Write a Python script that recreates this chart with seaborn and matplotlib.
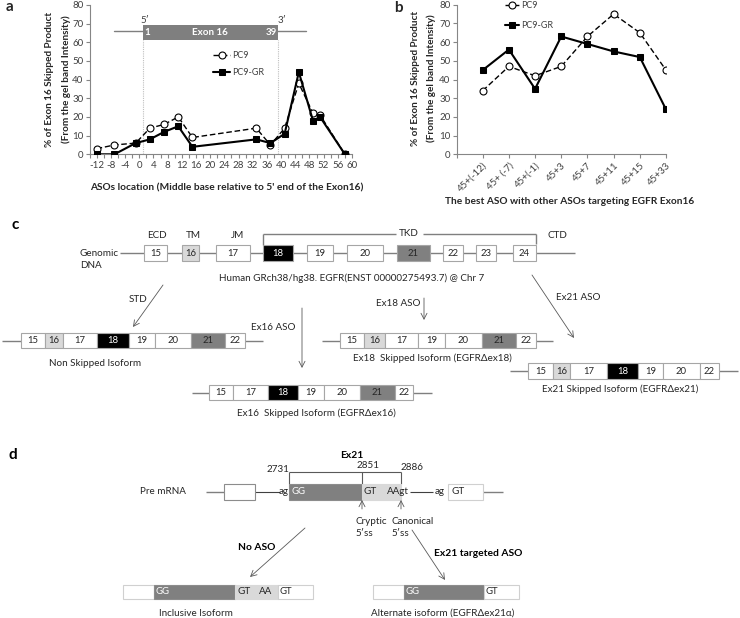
import numpy as np
import pandas as pd
import seaborn as sns
import matplotlib.pyplot as plt
from matplotlib.patches import Rectangle
from matplotlib.ticker import MultipleLocator

sns.set_theme(style='white')
plt.rcParams['font.family'] = ['Lato', 'DejaVu Sans']
plt.rcParams['axes.unicode_minus'] = False

# ---------------- data ----------------
aso_pos = [-12, -7, -1, 3, 7, 11, 15, 33, 37, 41, 45, 49, 51, 58]
pc9_a = [3, 5, 6, 14, 16, 20, 9, 14, 5, 14, 38, 22, 21, 0]
pc9gr_a = [0, 0, 6, 8, 12, 15, 4, 8, 6, 11, 44, 18, 20, 0]
a_xticks = list(range(-12, 61, 4))
y_ticks = list(range(0, 81, 10))

combos = ['45+(-12)', '45+ (-7)', '45+(-1)', '45+3', '45+7', '45+11', '45+15', '45+33']
pc9_b = [34, 47, 42, 47, 63, 75, 65, 45]
pc9gr_b = [45, 56, 35, 63, 59, 55, 52, 24]

W, H = 740, 618
fig = plt.figure(figsize=(W / 100, H / 100), dpi=100)

def px_axes(l, t, r, b):
    return fig.add_axes([l / W, 1 - b / H, (r - l) / W, (b - t) / H])

# ---------------- diagram canvas (panels c, d) ----------------
axd = fig.add_axes([0, 0, 1, 1])
axd.set_xlim(0, W)
axd.set_ylim(H, 0)
axd.axis('off')
axd.patch.set_alpha(0)

TXT = '#262626'
LINE = '#7f7f7f'
EDGE = '#a6a6a6'
FILL = {'w': 'white', 'l': '#d9d9d9', 'b': 'black', 'd': '#808080'}
FS = 7.1

def hline(x0, x1, y, color=LINE, lw=1.0):
    axd.plot([x0, x1], [y, y], color=color, lw=lw, solid_capstyle='butt', zorder=1)

def vline(x, y0, y1, color=LINE, lw=1.0):
    axd.plot([x, x], [y0, y1], color=color, lw=lw, solid_capstyle='butt', zorder=1)

def box(x0, x1, y0, y1, kind, label=None, align='center', tcolor=None, edge=EDGE):
    axd.add_patch(Rectangle((x0, y0), x1 - x0, y1 - y0, facecolor=FILL[kind],
                            edgecolor=edge, lw=0.8, zorder=2))
    if label is not None:
        c = tcolor or ('white' if kind == 'b' else TXT)
        if align == 'center':
            axd.text((x0 + x1) / 2, (y0 + y1) / 2, label, ha='center', va='center',
                     fontsize=FS - 0.3, color=c, zorder=3)
        else:
            axd.text(x0 + 2, (y0 + y1) / 2, label, ha='left', va='center',
                     fontsize=FS - 0.3, color=c, zorder=3)

def arrow(x0, y0, x1, y1):
    axd.annotate('', xy=(x1, y1), xytext=(x0, y0),
                 arrowprops=dict(arrowstyle='->,head_length=0.35,head_width=0.18',
                                 color='#595959', lw=0.6, shrinkA=0, shrinkB=0))

def text(x, y, s, ha='center', size=FS, weight='normal', color=TXT):
    axd.text(x, y, s, ha=ha, va='center', fontsize=size, fontweight=weight, color=color)

# panel c
text(15, 225, 'c', size=11, weight='bold', color='black')
text(157, 235, 'ECD'); text(193, 235, 'TM'); text(238, 235, 'JM')
text(409, 234, 'TKD'); text(557, 235, 'CTD')
# TKD bracket
hline(263, 396, 234); hline(423, 536, 234)
vline(263, 234, 245); vline(536, 234, 244)
text(80, 253, 'Genomic', ha='left'); text(80, 266, 'DNA', ha='left')
hline(120, 575, 253)
genomic = [('15', 144, 167, 'w'), ('16', 182, 199, 'l'), ('17', 216, 250, 'w'),
           ('18', 263, 293, 'b'), ('19', 307, 333, 'w'), ('20', 347, 383, 'w'),
           ('21', 397, 430, 'd'), ('22', 443, 463, 'w'), ('23', 476, 496, 'w'),
           ('24', 513, 536, 'w')]
for lab, x0, x1, k in genomic:
    box(x0, x1, 245, 261, k, lab)
text(352, 278, 'Human GRch38/hg38. EGFR(ENST 00000275493.7) @ Chr 7')

# arrows in c
arrow(163, 285, 133, 327); text(138, 300, 'STD')
arrow(302, 308, 302, 368); text(273, 327, 'Ex16 ASO')
arrow(424, 298, 424, 320); text(398, 304, 'Ex18 ASO')
arrow(532, 275, 574, 338); text(578, 297, 'Ex21 ASO')

def isoform(parts, y0, y1, l0, l1):
    hline(l0, l1, (y0 + y1) / 2)
    for lab, x0, x1, k in parts:
        box(x0, x1, y0, y1, k, lab)

isoform([('15', 21, 45, 'w'), ('16', 45, 63, 'l'), ('17', 63, 97, 'w'), ('18', 97, 129, 'b'),
         ('19', 129, 155, 'w'), ('20', 155, 191, 'w'), ('21', 191, 225, 'd'), ('22', 225, 245, 'w')],
        333, 348, 2, 263)
text(95, 363, 'Non Skipped Isoform')
isoform([('15', 340, 364, 'w'), ('16', 364, 385, 'l'), ('17', 385, 418, 'w'), ('19', 418, 445, 'w'),
         ('20', 445, 482, 'w'), ('21', 482, 516, 'd'), ('22', 516, 536, 'w')],
        333, 348, 322, 553)
text(432, 358, 'Ex18  Skipped Isoform (EGFRΔex18)')
isoform([('15', 209, 233, 'w'), ('17', 233, 268, 'w'), ('18', 268, 298, 'b'), ('19', 298, 324, 'w'),
         ('20', 324, 360, 'w'), ('21', 360, 395, 'd'), ('22', 395, 413, 'w')],
        385, 400, 192, 432)
text(316, 413, 'Ex16  Skipped Isoform (EGFRΔex16)')
isoform([('15', 528, 553, 'w'), ('16', 553, 570, 'l'), ('17', 570, 607, 'w'), ('18', 607, 638, 'b'),
         ('19', 638, 663, 'w'), ('20', 663, 700, 'w'), ('22', 700, 719, 'w')],
        363, 379, 510, 738)
text(620, 389, 'Ex21 Skipped Isoform (EGFRΔex21)')

# panel d
text(13, 455, 'd', size=11, weight='bold', color='black')
text(352, 456, 'Ex21', size=7.4, weight='bold', color='black')
hline(289, 401, 472, color='#595959', lw=0.8)
for xv in (289, 362, 401):
    vline(xv, 472, 484, color='#595959', lw=0.8)
text(278, 469, '2731'); text(368, 466, '2851'); text(412, 468, '2886')
text(163, 492, 'Pre mRNA')
hline(206, 224, 492)
box(224, 255, 484, 500, 'w', edge='#8c8c8c')
hline(255, 280, 492, color='#404040', lw=0.8)
text(284, 491, 'ag')
box(289, 362, 484, 500, 'd', 'GG', align='left', tcolor='white', edge='#8c8c8c')
box(362, 401, 484, 500, 'l', edge='#d9d9d9')
text(364, 492, 'GT', ha='left'); text(387, 492, 'AAgt', ha='left')
hline(410, 433, 492, color='#404040', lw=0.8)
text(440, 491, 'ag')
box(448, 483, 484, 500, 'w', edge='#d0d0d0')
text(451, 492, 'GT', ha='left')
hline(483, 503, 492)
arrow(362, 509, 362, 500); arrow(401, 509, 401, 500)
text(355, 521, 'Cryptic', ha='left'); text(355, 534, '5′ss', ha='left')
text(392, 521, 'Canonical', ha='left'); text(392, 534, '5′ss', ha='left')
arrow(305, 528, 250, 577); text(257, 547, 'No ASO', size=7.4, weight='bold', color='black')
arrow(412, 530, 445, 580); text(478, 553, 'Ex21 targeted ASO', size=7.4, weight='bold', color='black')

box(123, 154, 585, 599, 'w', edge='#d0d0d0')
box(154, 235, 585, 599, 'd', 'GG', align='left', tcolor='white', edge='#8c8c8c')
box(235, 278, 585, 599, 'l', edge='#d9d9d9')
text(237, 592, 'GT', ha='left'); text(259, 592, 'AA', ha='left')
box(278, 313, 585, 599, 'w', 'GT', align='left', edge='#d0d0d0')
text(196, 613, 'Inclusive Isoform')
box(373, 404, 585, 599, 'w', edge='#d0d0d0')
box(404, 484, 585, 599, 'd', 'GG', align='left', tcolor='white', edge='#8c8c8c')
box(484, 519, 585, 599, 'w', 'GT', align='left', edge='#d0d0d0')
text(443, 613, 'Alternate isoform (EGFRΔex21α)')

# ---------------- chart styling helper ----------------
AX = '#868686'
def style(ax):
    for s in ('top', 'right'):
        ax.spines[s].set_visible(False)
    for s in ('left', 'bottom'):
        ax.spines[s].set_color(AX)
        ax.spines[s].set_linewidth(0.8)
    ax.tick_params(axis='both', which='both', direction='out', length=3, width=0.8,
                   color=AX, labelsize=7, labelcolor='#404040', pad=1.5,
                   left=True, bottom=True)
    ax.set_ylim(0, 80)
    ax.set_yticks(y_ticks)
    ax.patch.set_alpha(0)
    ax.set_xlabel(''); ax.set_ylabel('')

# ---------------- panel a ----------------
axa = px_axes(89.6, 4.9, 352, 154.3)
sns.lineplot(x=aso_pos, y=pc9_a, ax=axa, color='black', lw=1.0, linestyle=(0, (4, 2)),
             marker='o', markersize=5, markerfacecolor='white', markeredgecolor='black',
             markeredgewidth=0.8, label='PC9', zorder=3)
sns.lineplot(x=aso_pos, y=pc9gr_a, ax=axa, color='black', lw=1.5, marker='s',
             markersize=5, markerfacecolor='black', markeredgecolor='black', label='PC9-GR', zorder=4)
style(axa)
axa.set_xlim(-14, 60)
axa.set_xticks(a_xticks)
axa.xaxis.set_minor_locator(MultipleLocator(2))
# exon 16 banner
axa.plot([-7, 47], [66.2, 66.2], color='#7f7f7f', lw=1.0, zorder=1)
axa.add_patch(Rectangle((1, 61.3), 38, 8.0, facecolor='#7f7f7f', edgecolor='none', zorder=2))
for xv in (1, 39):
    axa.plot([xv, xv], [0, 61.3], color='#bfbfbf', lw=0.8, linestyle=(0, (1, 1)), zorder=1)
axa.text(1.3, 65.3, '1', color='white', fontsize=7, fontweight='bold', ha='left', va='center', zorder=3)
axa.text(20, 65.3, 'Exon 16', color='white', fontsize=7, fontweight='bold', ha='center', va='center', zorder=3)
axa.text(38.8, 65.3, '39', color='white', fontsize=7, fontweight='bold', ha='right', va='center', zorder=3)
axa.text(1.5, 69.3, '5′', fontsize=7, ha='center', va='bottom', color='#404040')
axa.text(40.4, 69.3, '3′', fontsize=7, ha='center', va='bottom', color='#404040')
axa.legend(loc='upper left', bbox_to_anchor=((213 - 89.6) / 262.4, 1 - (51 - 4.9) / 149.4),
           frameon=False, fontsize=6.5, handlelength=1.9, handletextpad=0.2,
           labelspacing=0.9, borderpad=0, borderaxespad=0, labelcolor='#404040')

fig.text(10 / W, 1 - 7 / H, 'a', fontsize=11, fontweight='bold', ha='center', va='center')
fig.text(50 / W, 1 - 79 / H, '% of Exon 16 Skipped Product', rotation=90, fontsize=7.2,
         fontweight='bold', ha='center', va='center', color='#262626')
fig.text(66 / W, 1 - 79 / H, '(From the gel band Intensity)', rotation=90, fontsize=7.2,
         fontweight='bold', ha='center', va='center', color='#262626')
fig.text(227 / W, 1 - 188 / H, "ASOs location (Middle base relative to 5' end of the Exon16)",
         fontsize=7.3, fontweight='bold', ha='center', va='center', color='#262626')

# ---------------- panel b ----------------
axb = px_axes(456.5, 4.7, 666, 154.3)
xb = list(range(len(combos)))
sns.lineplot(x=xb, y=pc9_b, ax=axb, color='black', lw=1.0, linestyle=(0, (4, 2)),
             marker='o', markersize=5, markerfacecolor='white', markeredgecolor='black',
             markeredgewidth=0.8, label='PC9', zorder=3)
sns.lineplot(x=xb, y=pc9gr_b, ax=axb, color='black', lw=1.5, marker='s',
             markersize=5, markerfacecolor='black', markeredgecolor='black', label='PC9-GR', zorder=4)
style(axb)
axb.set_xlim(-1, 7)
axb.set_xticks(list(range(-1, 8)))
axb.set_xticklabels([''] + combos, rotation=45, ha='right', rotation_mode='anchor')
axb.legend(loc='upper left', bbox_to_anchor=((505 - 456.5) / 209.5, 1 - (1.5 - 4.7) / 149.6),
           frameon=False, fontsize=6.5, handlelength=1.6, handletextpad=0.2,
           labelspacing=1.2, borderpad=0, borderaxespad=0, labelcolor='#404040')

fig.text(398 / W, 1 - 8 / H, 'b', fontsize=11, fontweight='bold', ha='center', va='center')
fig.text(415 / W, 1 - 78 / H, '% of Exon 16 Skipped Product', rotation=90, fontsize=7.2,
         fontweight='bold', ha='center', va='center', color='#262626')
fig.text(431 / W, 1 - 78 / H, '(From the gel band Intensity)', rotation=90, fontsize=7.2,
         fontweight='bold', ha='center', va='center', color='#262626')
fig.text(570 / W, 1 - 202 / H, 'The best ASO with other ASOs targeting EGFR Exon16',
         fontsize=7.3, fontweight='bold', ha='center', va='center', color='#262626')

fig.savefig('out.png', dpi=100)
